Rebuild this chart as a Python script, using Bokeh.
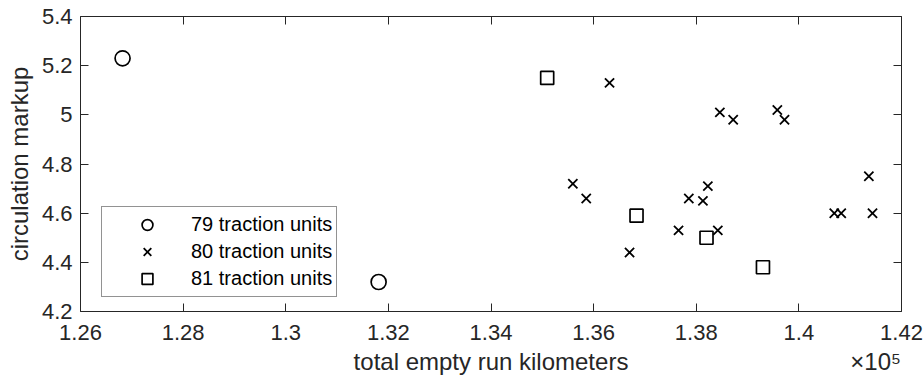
from bokeh.plotting import figure
from bokeh.models import (LinearAxis, FixedTicker, CustomJSTickFormatter, Legend,
                          LegendItem, Range1d)
from bokeh.embed import file_html
from bokeh.resources import INLINE

# ---- data (total empty run km, circulation markup) ----
x79 = [126820, 131810]
y79 = [5.23, 4.32]

x80 = [136310, 135595, 135856, 136700, 137655, 137855, 138130, 138226, 138420,
       138460, 138720, 139580, 139720, 140690, 140825, 141364, 141435]
y80 = [5.13, 4.72, 4.66, 4.44, 4.53, 4.66, 4.65, 4.71, 4.53,
       5.01, 4.98, 5.02, 4.98, 4.60, 4.60, 4.75, 4.60]

x81 = [135095, 136836, 138200, 139300]
y81 = [5.15, 4.59, 4.50, 4.38]

labels = ["79 traction units", "80 traction units", "81 traction units"]
x_ticks = [126000, 128000, 130000, 132000, 134000, 136000, 138000, 140000, 142000]
y_ticks = [4.2, 4.4, 4.6, 4.8, 5.0, 5.2, 5.4]
x_title = "total empty run kilometers"
y_title = "circulation markup"
x_exponent = "×10⁵"

X0, X1 = 126000, 142000
FONT = "Liberation Sans"
AX = "#262626"

p = figure(width=924, height=385, output_backend="svg", toolbar_location=None,
           x_range=Range1d(X0, X1), y_range=Range1d(4.2, 5.4),
           min_border_left=80, min_border_right=23, min_border_top=16,
           min_border_bottom=74)
p.grid.visible = False
p.outline_line_color = None
p.background_fill_color = "white"

fmt = CustomJSTickFormatter(code="return String(Number((tick/1e5).toFixed(2)));")
yfmt = CustomJSTickFormatter(code="return String(Number(tick.toFixed(2)));")
blank = CustomJSTickFormatter(code="return '';")

def style(ax, ticks, show_labels=True):
    ax.ticker = FixedTicker(ticks=ticks)
    ax.axis_line_color = AX
    ax.axis_line_width = 1
    ax.major_tick_line_color = AX
    ax.major_tick_line_width = 1
    ax.major_tick_in = 8
    ax.major_tick_out = 0
    ax.minor_tick_line_color = None
    ax.major_label_text_font = FONT
    ax.major_label_text_color = AX
    ax.axis_label_text_font = FONT
    ax.axis_label_text_font_style = "normal"
    ax.axis_label_text_color = AX
    ax.major_label_text_font_size = "22px"
    ax.axis_label_text_font_size = "24px"
    if not show_labels:
        ax.formatter = blank
        ax.major_label_standoff = 0

xa = p.xaxis[0]
style(xa, x_ticks)
xa.formatter = fmt
xa.major_label_standoff = 13

# second row under the x axis: axis title (centred) and the exponent (right)
mid = (X0 + X1) / 2
exp_pos = X0 + (X1 - X0) * 0.9685
xt = LinearAxis(ticker=FixedTicker(ticks=[mid, exp_pos]),
                major_label_overrides={mid: x_title, exp_pos: x_exponent})
xt.axis_line_color = None
xt.major_tick_line_color = None
xt.minor_tick_line_color = None
xt.major_tick_in = 0
xt.major_tick_out = 0
xt.major_label_standoff = 5
xt.major_label_text_font = FONT
xt.major_label_text_font_size = "24px"
xt.major_label_text_color = AX
p.add_layout(xt, "below")

ya = p.yaxis[0]
style(ya, y_ticks)
ya.formatter = yfmt
ya.axis_label = y_title
ya.major_label_standoff = 8
ya.axis_label_standoff = 6

top = LinearAxis()
style(top, x_ticks, show_labels=False)
p.add_layout(top, "above")
right = LinearAxis()
style(right, y_ticks, show_labels=False)
p.add_layout(right, "right")

r79 = p.scatter(x79, y79, marker="circle", size=15, fill_color=None,
                line_color="black", line_width=1.7)
r80 = p.scatter(x80, y80, marker="x", size=13, line_color="black", line_width=1.8)
r81 = p.scatter(x81, y81, marker="square", size=13, fill_color=None,
                line_color="black", line_width=1.7)

legend = Legend(items=[LegendItem(label=labels[0], renderers=[r79]),
                       LegendItem(label=labels[1], renderers=[r80]),
                       LegendItem(label=labels[2], renderers=[r81])],
                location=(21, 14))
legend.label_text_font = FONT
legend.label_text_font_size = "20px"
legend.label_text_color = "black"
legend.padding = 4
legend.margin = 0
legend.spacing = 0
legend.glyph_width = 82
legend.glyph_height = 27
legend.label_height = 27
legend.label_standoff = 3
legend.border_line_color = AX
legend.border_line_width = 1
legend.background_fill_color = "white"
legend.background_fill_alpha = 1
p.add_layout(legend, "center")

open("out.html", "w").write(file_html(p, INLINE))
